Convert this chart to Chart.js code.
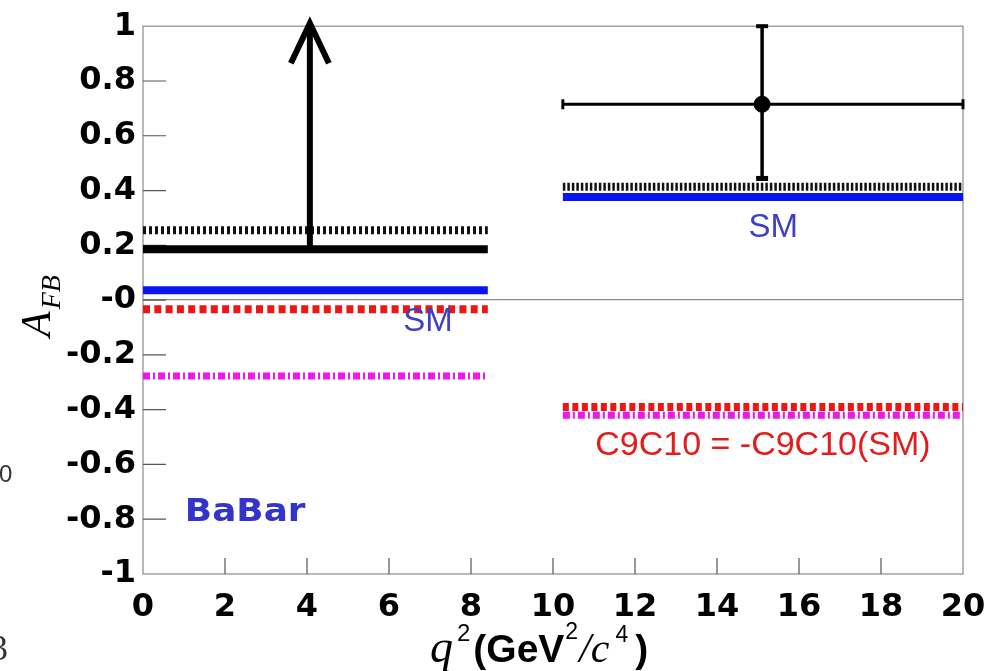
<!DOCTYPE html>
<html>
<head>
<meta charset="utf-8">
<script src="https://cdn.jsdelivr.net/npm/chart.js@4.4.1/dist/chart.umd.min.js"></script>
<style>
  html, body { margin: 0; padding: 0; background: #fff; }
  #wrap { position: relative; width: 992px; height: 671px; }
</style>
</head>
<body>
<div id="wrap"><canvas id="afb" width="992" height="671"></canvas></div>
<script>
// q^2 bins (GeV^2/c^4)
const binLow = [0, 10.24];
const binHigh = [8.41, 20];

// model predictions per bin
const smValues = [0.036, 0.376];
const hatchedValues = [0.255, 0.414];
const flipC9C10Values = [-0.033, -0.39];
const flipC7Values = [-0.277, -0.42];

// measurement: low bin is a lower limit, high bin a point with errors
const measuredX = [4.07, 15.1];
const measuredY = [0.186, 0.715];
const measuredYLow = [0.186, 0.446];
const measuredYHigh = [1.0, 1.0];

const xTicks = [0, 2, 4, 6, 8, 10, 12, 14, 16, 18, 20];
const xTickLabels = ['0', '2', '4', '6', '8', '10', '12', '14', '16', '18', '20'];
const yTicks = [-1, -0.8, -0.6, -0.4, -0.2, 0, 0.2, 0.4, 0.6, 0.8, 1];
const yTickLabels = ['-1', '-0.8', '-0.6', '-0.4', '-0.2', '-0', '0.2', '0.4', '0.6', '0.8', '1'];

function hline(x0, x1, y, color, width, dash) {
  return {
    data: [{ x: x0, y: y }, { x: x1, y: y }],
    showLine: true,
    pointRadius: 0,
    borderColor: color,
    backgroundColor: color,
    borderWidth: width,
    borderDash: dash || [],
    borderCapStyle: 'butt'
  };
}

const datasets = [];

// measured values first so they sit on top
datasets.push({
  data: [{ x: measuredX[1], y: measuredY[1] }],
  pointRadius: 8,
  pointBackgroundColor: '#000',
  pointBorderColor: '#000'
});
datasets.push(hline(binLow[0], binHigh[0], measuredY[0], '#000', 8));
datasets.push({
  data: [{ x: measuredX[0], y: measuredYLow[0] }, { x: measuredX[0], y: measuredYHigh[0] }],
  showLine: true, pointRadius: 0, borderColor: '#000', borderWidth: 6, borderCapStyle: 'butt'
});
datasets.push(hline(binLow[1], binHigh[1], measuredY[1], '#000', 3));
datasets.push({
  data: [{ x: measuredX[1], y: measuredYLow[1] }, { x: measuredX[1], y: measuredYHigh[1] }],
  showLine: true, pointRadius: 0, borderColor: '#000', borderWidth: 3.5, borderCapStyle: 'butt'
});

for (let i = 0; i < binLow.length; i++) {
  datasets.push(hline(binLow[i], binHigh[i], hatchedValues[i], '#111', 8, i === 0 ? [3, 3] : [2.5, 2]));
  datasets.push(hline(binLow[i], binHigh[i], smValues[i], '#0a14f0', 8));
  datasets.push(hline(binLow[i], binHigh[i], flipC9C10Values[i], '#ee1515', 8, i === 0 ? [7, 4.3] : [6, 3.5]));
  datasets.push(hline(binLow[i], binHigh[i], flipC7Values[i], '#ee18ee', 7, [7, 3, 2, 3]));
}

// frame, inside ticks, arrow head, error caps and text
const decorations = {
  id: 'decorations',
  beforeDatasetsDraw(chart) {
    const { ctx, chartArea: a, scales } = chart;
    ctx.save();
    ctx.strokeStyle = '#8a8a8a';
    ctx.lineWidth = 1.2;
    ctx.strokeRect(a.left, a.top, a.right - a.left, a.bottom - a.top);
    ctx.strokeStyle = '#555';
    ctx.beginPath();
    scales.y.ticks.forEach(t => {
      if (t.value <= -1 || t.value >= 1) return;
      const py = scales.y.getPixelForValue(t.value);
      ctx.moveTo(a.left, py);
      ctx.lineTo(a.left + 23, py);
    });
    scales.x.ticks.forEach(t => {
      if (t.value <= 0 || t.value >= 20) return;
      const px = scales.x.getPixelForValue(t.value);
      ctx.moveTo(px, a.bottom);
      ctx.lineTo(px, a.bottom - 16);
    });
    ctx.stroke();
    ctx.restore();
  },
  afterDatasetsDraw(chart) {
    const { ctx, scales } = chart;
    const sx = v => scales.x.getPixelForValue(v);
    const sy = v => scales.y.getPixelForValue(v);
    ctx.save();

    // arrow head on the lower limit
    const tipX = sx(measuredX[0]);
    const tipY = sy(measuredYHigh[0]) - 3;
    ctx.strokeStyle = '#000';
    ctx.lineWidth = 6;
    ctx.lineJoin = 'miter';
    ctx.beginPath();
    ctx.moveTo(tipX - 19, tipY + 40);
    ctx.lineTo(tipX, tipY);
    ctx.lineTo(tipX + 19, tipY + 40);
    ctx.stroke();

    // error bar caps
    ctx.fillStyle = '#000';
    const cy = sy(measuredY[1]);
    ctx.fillRect(sx(binLow[1]) - 1.5, cy - 5, 3, 10);
    ctx.fillRect(sx(binHigh[1]) - 1.5, cy - 5, 3, 10);
    const cx = sx(measuredX[1]);
    ctx.fillRect(cx - 6, sy(measuredYLow[1]) - 2, 12, 5);
    ctx.fillRect(cx - 6, sy(measuredYHigh[1]) - 2, 12, 4);

    // labels
    ctx.textAlign = 'center';
    ctx.textBaseline = 'middle';
    ctx.fillStyle = '#4040c4';
    ctx.font = '33px "Liberation Sans", Arial, sans-serif';
    ctx.fillText('SM', sx(6.95), sy(-0.08));
    ctx.fillText('SM', sx(15.37), sy(0.263));
    ctx.fillStyle = '#e31c1c';
    ctx.font = '34px "Liberation Sans", Arial, sans-serif';
    ctx.fillText('C9C10 = -C9C10(SM)', sx(15.12), sy(-0.53));

    ctx.save();
    ctx.translate(sx(1.02), sy(-0.777));
    ctx.scale(1.12, 1);
    ctx.textAlign = 'left';
    ctx.fillStyle = '#3434cc';
    ctx.font = 'bold 32px "DejaVu Sans", sans-serif';
    ctx.fillText('BaBar', 0, 0);
    ctx.restore();

    ctx.restore();
  },
  afterDraw(chart) {
    const { ctx } = chart;
    ctx.save();
    ctx.fillStyle = '#000';
    ctx.textBaseline = 'alphabetic';

    // y title: A_FB, rotated
    ctx.save();
    ctx.translate(50, 337);
    ctx.rotate(-Math.PI / 2);
    ctx.textAlign = 'left';
    ctx.font = 'italic 42px "Liberation Serif", serif';
    ctx.fillText('A', 0, 0);
    const aw = ctx.measureText('A').width;
    ctx.font = 'italic 28px "Liberation Serif", serif';
    ctx.fillText('FB', aw + 2, 10);
    ctx.restore();

    // x title: q^2 (GeV^2/c^4)
    let x = 430;
    const base = 662;
    const put = (txt, font, dy) => {
      ctx.font = font;
      ctx.fillText(txt, x, base + (dy || 0));
      x += ctx.measureText(txt).width;
    };
    ctx.textAlign = 'left';
    put('q', 'italic 46px "Liberation Serif", serif');
    x += 4;
    put('2', '24px "Liberation Sans", Arial, sans-serif', -21);
    x += 3;
    put('(GeV', 'bold 39px "Liberation Sans", Arial, sans-serif');
    x += 1;
    put('2', '23px "Liberation Sans", Arial, sans-serif', -23);
    x += 1;
    put('/c', 'italic 42px "Liberation Serif", serif');
    x += 6;
    put('4', '23px "Liberation Sans", Arial, sans-serif', -20);
    x += 7;
    put(')', 'bold 39px "Liberation Sans", Arial, sans-serif');

    // stray glyphs at the left margin
    ctx.fillStyle = '#333';
    ctx.font = '24px "Liberation Sans", Arial, sans-serif';
    ctx.fillText('0', -1, 482);
    ctx.font = '36px "Liberation Serif", serif';
    ctx.fillText('3', -10, 660);
    ctx.restore();
  }
};

const tickFont = size => ({ family: '"DejaVu Sans", sans-serif', weight: 'bold', size: size });

new Chart(document.getElementById('afb'), {
  type: 'scatter',
  data: { datasets: datasets },
  options: {
    responsive: false,
    animation: false,
    devicePixelRatio: 1,
    layout: { padding: { top: 26, right: 29, left: 0, bottom: 0 } },
    plugins: { legend: { display: false }, tooltip: { enabled: false } },
    scales: {
      x: {
        type: 'linear',
        min: 0,
        max: 20,
        afterBuildTicks: s => { s.ticks = xTicks.map(v => ({ value: v })); },
        afterFit: s => { s.height = 97; },
        grid: { display: false },
        border: { display: false },
        ticks: {
          autoSkip: false,
          maxRotation: 0,
          padding: 6,
          color: '#000',
          font: tickFont(32),
          callback: (v, i) => xTickLabels[i]
        }
      },
      y: {
        type: 'linear',
        min: -1,
        max: 1,
        afterBuildTicks: s => { s.ticks = yTicks.map(v => ({ value: v })); },
        afterFit: s => { s.width = 143; },
        grid: {
          drawTicks: false,
          lineWidth: 1.2,
          color: c => (c.tick && c.tick.value === 0 ? '#8a8a8a' : 'rgba(0,0,0,0)')
        },
        border: { display: false },
        ticks: {
          autoSkip: false,
          padding: 7,
          color: '#000',
          font: tickFont(32),
          callback: (v, i) => yTickLabels[i]
        }
      }
    }
  },
  plugins: [decorations]
});
</script>
</body>
</html>
